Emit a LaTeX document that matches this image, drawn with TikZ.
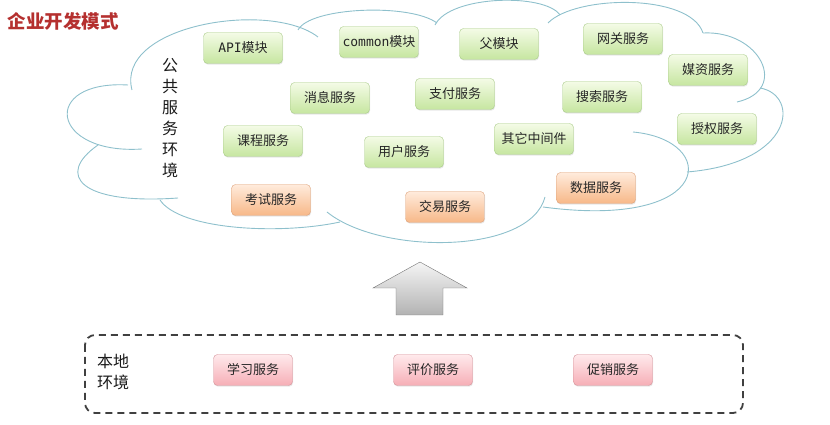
\documentclass[tikz,border=0pt]{standalone}
\usepackage{fontspec}
\setmainfont{Noto Sans CJK SC}
\setmonofont{DejaVu Sans Mono}
\usepackage{tikz}
\usetikzlibrary{shadows}
\usetikzlibrary{arrows.meta}

\definecolor{cloudline}{HTML}{8EC0CC}
\definecolor{titlered}{HTML}{B5302F}
\definecolor{greentop}{HTML}{F4FBE6}
\definecolor{greenbot}{HTML}{C6E6A0}
\definecolor{greenline}{HTML}{A9CB8A}
\definecolor{orangetop}{HTML}{FFEBDC}
\definecolor{orangebot}{HTML}{F7B888}
\definecolor{orangeline}{HTML}{DDA27A}
\definecolor{redtop}{HTML}{FFEAEC}
\definecolor{redbot}{HTML}{F6AEB6}
\definecolor{redline}{HTML}{D5939A}

\tikzset{
  svc/.style={rounded corners=4pt, minimum width=79pt, minimum height=31pt,
    inner sep=2pt, text=black!85, font=\fontsize{13}{15}\selectfont,
    drop shadow={opacity=0.18, shadow xshift=0.6pt, shadow yshift=-1.2pt}},
  greensvc/.style={svc, draw=greenline, top color=greentop, bottom color=greenbot},
  orangesvc/.style={svc, draw=orangeline, top color=orangetop, bottom color=orangebot},
  redsvc/.style={svc, draw=redline, top color=redtop, bottom color=redbot},
  bump/.style={draw=cloudline, line width=0.9pt},
  envlabel/.style={align=left, text=black!90, font=\fontsize{16}{21}\selectfont},
}

\begin{document}
\begin{tikzpicture}[x=1pt, y=1pt]
\useasboundingbox (0,0) rectangle (830,425);
% title
\node[anchor=west, text=titlered, font=\fontsize{18.5}{20}\selectfont\bfseries] (title) at (4,404) {企业开发模式};
% cloud
\draw[bump] (132,335) .. controls (115,400) and (270,425) .. (318,388);
\draw[bump] (298,395) .. controls (310,418) and (410,422) .. (437,402);
\draw[bump] (435,400) .. controls (450,430) and (545,432) .. (560,410);
\draw[bump] (548,402) .. controls (575,430) and (690,432) .. (703,392);
\draw[bump] (703,392) .. controls (760,395) and (790,335) .. (737,323);
\draw[bump] (760,337) .. controls (800,330) and (795,262) .. (687,253);
\draw[bump] (633,293) .. controls (720,285) and (715,195) .. (543,218);
\draw[bump] (545,228) .. controls (530,170) and (380,170) .. (327,213);
\draw[bump] (160,225) .. controls (180,195) and (280,190) .. (340,203);
\draw[bump] (98,280) .. controls (55,250) and (80,220) .. (178,227);
\draw[bump] (128,340) .. controls (40,345) and (50,270) .. (142,276);
\node[envlabel, align=center] (public) at (170,307) {公\\共\\服\\务\\环\\境};
% public services
\node[greensvc] (api) at (243,377) {\texttt{API}模块};
\node[greensvc] (common) at (379,383) {\texttt{common}模块};
\node[greensvc] (parent) at (499,381) {父模块};
\node[greensvc] (gateway) at (623,386) {网关服务};
\node[greensvc] (media) at (708,355) {媒资服务};
\node[greensvc] (message) at (330,327) {消息服务};
\node[greensvc] (payment) at (455,331) {支付服务};
\node[greensvc] (search) at (602,328) {搜索服务};
\node[greensvc] (auth) at (717,296) {授权服务};
\node[greensvc] (course) at (263,284) {课程服务};
\node[greensvc] (user) at (404,273) {用户服务};
\node[greensvc] (middleware) at (534,286) {其它中间件};
\node[orangesvc] (exam) at (271,225) {考试服务};
\node[orangesvc] (trade) at (445,218) {交易服务};
\node[orangesvc] (data) at (596,237) {数据服务};
% arrow up
\draw[draw=black!55, top color=black!4, bottom color=black!30, line join=miter]
  (420,163) -- (467,137) -- (443,137) -- (443,110) -- (396,110) -- (396,137) -- (373,137) -- cycle;
% local services
\draw[draw=black!75, line width=1.8pt, dash pattern=on 7pt off 5pt, rounded corners=10pt]
  (85,90) rectangle (743,12);
\node[envlabel] (local) at (113,53) {本地\\环境};
\node[redsvc] (study) at (253,55) {学习服务};
\node[redsvc] (review) at (433,55) {评价服务};
\node[redsvc] (promo) at (613,55) {促销服务};
\end{tikzpicture}
\end{document}
